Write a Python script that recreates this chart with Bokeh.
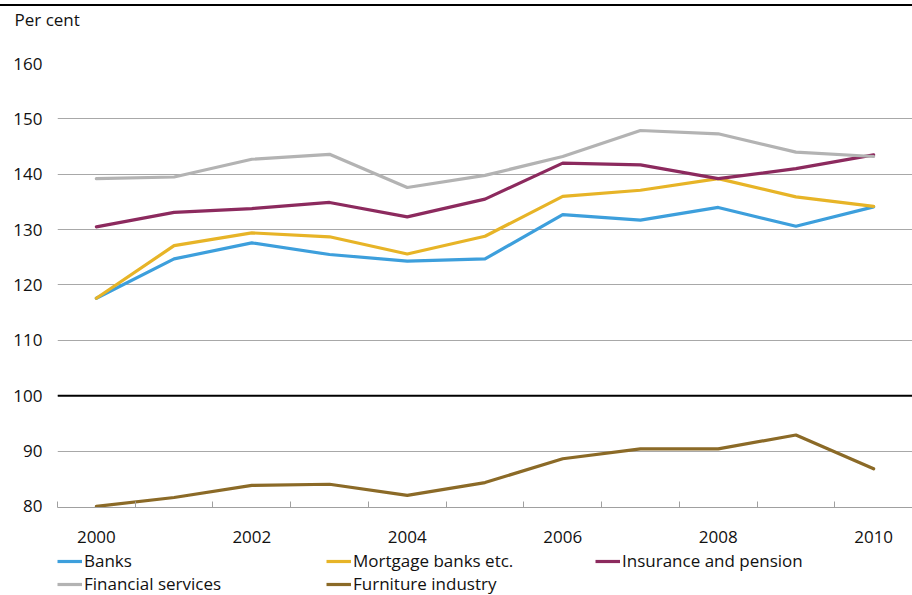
from bokeh.plotting import figure
from bokeh.layouts import column
from bokeh.models import (FixedTicker, Span, Legend, LegendItem, Range1d, Label)
from bokeh.embed import file_html
from bokeh.resources import INLINE

years = [2000, 2001, 2002, 2003, 2004, 2005, 2006, 2007, 2008, 2009, 2010]
banks = [117.6, 124.7, 127.6, 125.5, 124.3, 124.7, 132.7, 131.7, 134.0, 130.6, 134.1]
mortgage = [117.6, 127.1, 129.4, 128.7, 125.6, 128.8, 136.0, 137.1, 139.2, 135.9, 134.2]
insurance = [130.5, 133.1, 133.8, 134.9, 132.3, 135.5, 142.0, 141.7, 139.2, 141.0, 143.5]
financial = [139.2, 139.5, 142.7, 143.6, 137.6, 139.8, 143.2, 147.9, 147.3, 144.0, 143.2]
furniture = [80.0, 81.6, 83.8, 84.0, 82.0, 84.3, 88.6, 90.4, 90.4, 92.9, 86.8]

series_names = ["Banks", "Mortgage banks etc.", "Insurance and pension",
                "Financial services", "Furniture industry"]
series_values = [banks, mortgage, insurance, financial, furniture]
colors = ["#3d9fdc", "#e7b427", "#8c2a5e", "#b3b3b3", "#8b6a27"]

y_ticks = [80, 90, 100, 110, 120, 130, 140, 150, 160]
x_label_ticks = [2000, 2002, 2004, 2006, 2008, 2010]
unit_label = "Per cent"

FONT = "Open Sans"
TXT = "#111111"
FS = "17px"

# header strip: black rule (CSS border) and unit label
hd = figure(width=912, height=47, output_backend="svg", toolbar_location=None,
            x_axis_type=None, y_axis_type=None, min_border=0, frame_align=False,
            x_range=Range1d(0, 912), y_range=Range1d(0, 47))
hd.styles = {"margin-top": "4px", "border-top": "2px solid black"}
hd.outline_line_color = None
hd.grid.visible = False
hd.add_layout(Label(x=14, y=34, text=unit_label, text_font=FONT, text_font_size=FS,
                    text_color=TXT, text_baseline="alphabetic", text_align="left"))

# main chart
p = figure(width=912, height=496, output_backend="svg", toolbar_location=None,
           x_range=Range1d(1999.5, 2010.5), y_range=Range1d(79.8, 160),
           min_border_left=57, min_border_right=0, min_border_top=12,
           min_border_bottom=40)
p.outline_line_color = None
p.background_fill_color = "white"
p.border_fill_color = "white"

p.xgrid.visible = False
p.ygrid.ticker = FixedTicker(ticks=[t for t in y_ticks if t > 80])
p.ygrid.grid_line_color = "#a8a8a8"
p.ygrid.grid_line_width = 1

p.yaxis.ticker = FixedTicker(ticks=y_ticks)
p.yaxis.axis_line_color = None
p.yaxis.major_tick_line_color = None
p.yaxis.minor_tick_line_color = None
p.yaxis.major_label_standoff = 9
p.yaxis.major_label_text_font = FONT
p.yaxis.major_label_text_font_size = FS
p.yaxis.major_label_text_color = TXT

p.xaxis.ticker = FixedTicker(ticks=x_label_ticks,
                             minor_ticks=[y + 0.5 for y in range(1999, 2011)])
p.xaxis.axis_line_color = "#a0a0a0"
p.xaxis.axis_line_width = 1
p.xaxis.major_tick_line_color = None
p.xaxis.minor_tick_line_color = "#a0a0a0"
p.xaxis.minor_tick_in = 6
p.xaxis.minor_tick_out = 0
p.xaxis.major_label_standoff = 17
p.xaxis.major_label_text_font = FONT
p.xaxis.major_label_text_font_size = FS
p.xaxis.major_label_text_color = TXT

p.add_layout(Span(location=100, dimension="width", line_color="black", line_width=2))

for name, vals, c in zip(series_names, series_values, colors):
    p.line(years, vals, line_color=c, line_width=3.2, line_join="round", line_cap="round")

# legend strip below the chart (its lines lie outside its visible range)
lg = figure(width=912, height=48, output_backend="svg", toolbar_location=None,
            x_axis_type=None, y_axis_type=None, min_border=0, frame_align=False,
            x_range=Range1d(0, 1), y_range=Range1d(0, 1))
lg.outline_line_color = None
lg.grid.visible = False
lg_renderers = [lg.line(years, vals, line_color=c, line_width=3.2)
                for vals, c in zip(series_values, colors)]
items = [LegendItem(label=n, renderers=[r]) for n, r in zip(series_names, lg_renderers)]
legend = Legend(items=items, orientation="horizontal", ncols=3,
                location=(57, 0), padding=0, margin=0, spacing=0,
                glyph_width=25, glyph_height=20, label_height=20,
                label_standoff=2, label_width=242,
                label_text_font=FONT, label_text_font_size=FS,
                label_text_color=TXT, border_line_color=None,
                background_fill_alpha=0)
lg.add_layout(legend)

open("out.html", "w").write(file_html(column(hd, p, lg, spacing=0), INLINE))
